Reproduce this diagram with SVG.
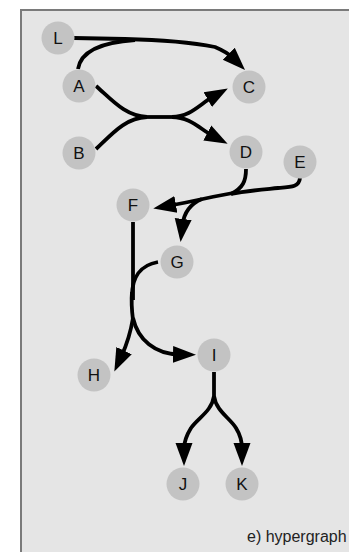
<svg xmlns="http://www.w3.org/2000/svg" width="349" height="552" viewBox="0 0 349 552">
<style>
.bg{fill:#e5e5e5;stroke:none}
.frame{fill:none;stroke:#7a7a7a;stroke-width:2}
.node circle{fill:#c3c3c3;stroke:none}
.node text{font-family:"Liberation Sans",Arial,sans-serif;font-size:17px;fill:#111;text-anchor:middle}
.edge{fill:none;stroke:#000;stroke-width:3.8;stroke-linecap:butt}
.cap{font-family:"Liberation Sans",Arial,sans-serif;font-size:16px;fill:#222}
</style>
<defs>
<marker id="arr" markerUnits="userSpaceOnUse" markerWidth="26" markerHeight="20" viewBox="0 -10 26 20" refX="6" refY="0" orient="auto">
<path d="M0,-8.5 L23,0 L0,8.5 z" fill="#000"/>
</marker>
</defs>
<rect x="0" y="0" width="349" height="552" fill="#ffffff"/>
<rect class="bg" x="21" y="10" width="330" height="545"/>
<path class="frame" d="M21,555 L21,10 L352,10"/>
<g id="connectors">
<path class="edge" d="M74,38 L125,39 C170,40 200,44 215,47 C222,50 228,53 233,58" marker-end="url(#arr)"/>
<path class="edge" d="M78,69 C81,50 105,42 135,40"/>
<path class="edge" d="M96,86 C112,100 125,116 147,117"/>
<path class="edge" d="M96,149 C112,134 125,118 147,117"/>
<path class="edge" d="M145,117 L175,117"/>
<path class="edge" d="M172,117 C190,117 200,104 213,96.7" marker-end="url(#arr)"/>
<path class="edge" d="M172,117 C190,117 200,129 212.6,135.7" marker-end="url(#arr)"/>
<path class="edge" d="M246,169 C246,181 243,188 231,194"/>
<path class="edge" d="M300,178 C299,187 292,187 278,188 C258,190 245,191 231,194"/>
<path class="edge" d="M233,193 C215,196 195,201 170,205.5" marker-end="url(#arr)"/>
<path class="edge" d="M202,199 C190,204 184,212 182.5,225" marker-end="url(#arr)"/>
<path class="edge" d="M133,222 L133,300"/>
<path class="edge" d="M158,262 C140,265 132,278 132,296"/>
<path class="edge" d="M132,292 C131,303 132,312 133,320"/>
<path class="edge" d="M133,318 C131,330 128,342 121.5,356" marker-end="url(#arr)"/>
<path class="edge" d="M133,318 C138,340 155,354 179,354.5" marker-end="url(#arr)"/>
<path class="edge" d="M214,372 L214,399"/>
<path class="edge" d="M214,396 C212,411 198,418 191,428 C186,436 184,442 184,449" marker-end="url(#arr)"/>
<path class="edge" d="M214,396 C216,411 230,418 236,428 C241,436 242,442 242,449" marker-end="url(#arr)"/>
</g>
<g id="node-L" class="node"><circle cx="58" cy="38" r="16.5"/><text x="58" y="44">L</text></g>
<g id="node-A" class="node"><circle cx="79" cy="86" r="16.5"/><text x="79" y="92">A</text></g>
<g id="node-C" class="node"><circle cx="249" cy="87" r="16.5"/><text x="249" y="93">C</text></g>
<g id="node-B" class="node"><circle cx="79" cy="153" r="16.5"/><text x="79" y="159">B</text></g>
<g id="node-D" class="node"><circle cx="246" cy="152" r="16.5"/><text x="246" y="158">D</text></g>
<g id="node-E" class="node"><circle cx="300" cy="162" r="16.5"/><text x="300" y="168">E</text></g>
<g id="node-F" class="node"><circle cx="133" cy="205" r="16.5"/><text x="133" y="211">F</text></g>
<g id="node-G" class="node"><circle cx="177" cy="262" r="16.5"/><text x="177" y="268">G</text></g>
<g id="node-I" class="node"><circle cx="214" cy="355" r="16.5"/><text x="214" y="361">I</text></g>
<g id="node-H" class="node"><circle cx="94" cy="375" r="16.5"/><text x="94" y="381">H</text></g>
<g id="node-J" class="node"><circle cx="183" cy="484" r="16.5"/><text x="183" y="490">J</text></g>
<g id="node-K" class="node"><circle cx="242" cy="484" r="16.5"/><text x="242" y="490">K</text></g>
<text class="cap" x="247" y="542">e) hypergraph</text>
</svg>
